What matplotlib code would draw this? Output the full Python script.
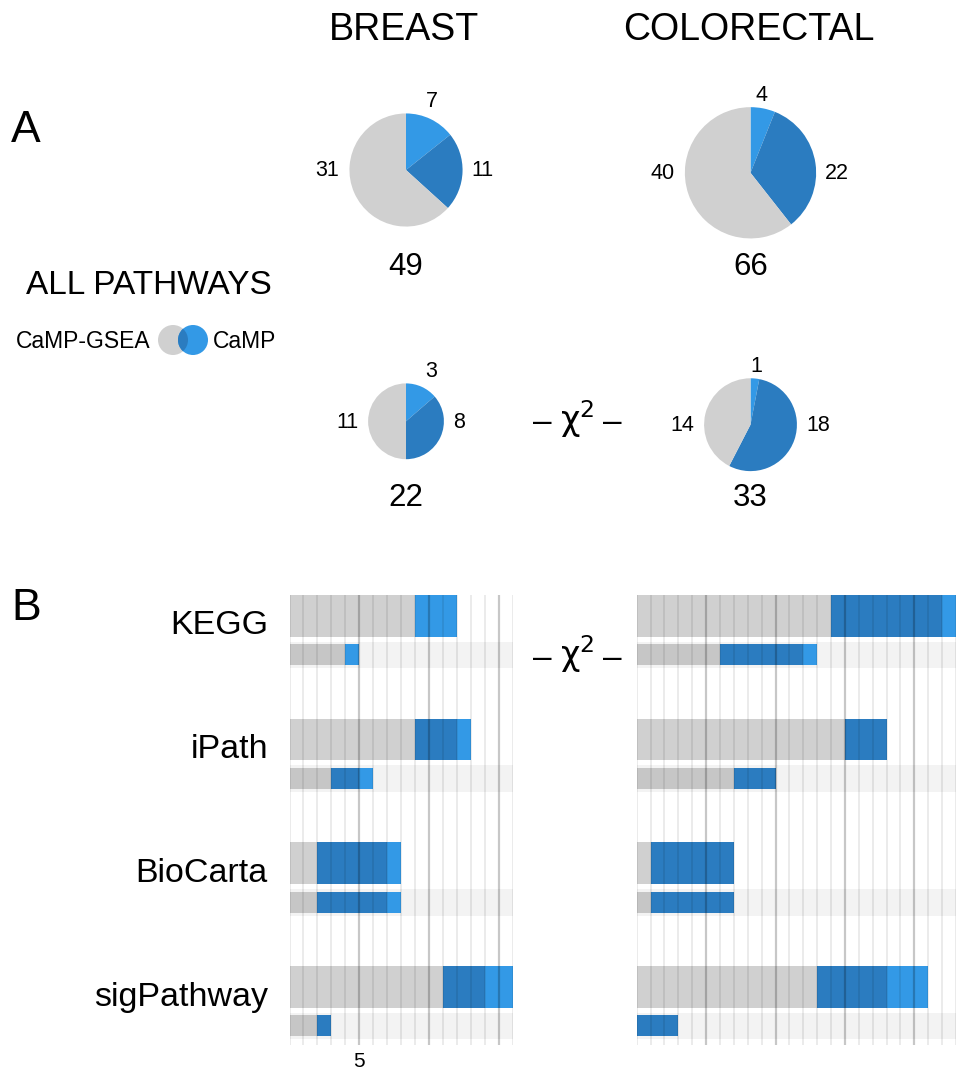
import numpy as np
import matplotlib
matplotlib.use("Agg")
import matplotlib.pyplot as plt
from matplotlib.patches import Circle

plt.rcParams['font.family'] = ['Liberation Sans', 'DejaVu Sans']

# order of every series: CaMP only, both, CaMP-GSEA only
pie_breast_all = [7, 11, 31]
pie_colorectal_all = [4, 22, 40]
pie_breast_chi2 = [3, 8, 11]
pie_colorectal_chi2 = [1, 18, 14]

databases = ['KEGG', 'iPath', 'BioCarta', 'sigPathway']
breast_gsea = [9, 9, 2, 11]
breast_both = [0, 3, 5, 3]
breast_camp = [3, 1, 1, 2]
breast_chi_gsea = [4, 3, 2, 2]
breast_chi_both = [0, 2, 5, 1]
breast_chi_camp = [1, 1, 1, 0]
colorectal_gsea = [14, 15, 1, 13]
colorectal_both = [8, 3, 6, 5]
colorectal_camp = [1, 0, 0, 3]
colorectal_chi_gsea = [6, 7, 1, 0]
colorectal_chi_both = [6, 3, 6, 3]
colorectal_chi_camp = [1, 0, 0, 0]

LIGHT = '#3399e6'
DARK = '#2b7cc0'
GRAY = '#d0d0d0'
GRAY2 = '#c6c6c6'

W, H = 956, 1074
fig = plt.figure(figsize=(W / 100, H / 100), dpi=100)


def px_axes(x0, y0, x1, y1):
    return fig.add_axes([x0 / W, 1 - y1 / H, (x1 - x0) / W, (y1 - y0) / H])


# overlay for text, in pixel coords
tx = px_axes(0, 0, W, H)
tx.set_xlim(0, W)
tx.set_ylim(H, 0)
tx.axis('off')
tx.patch.set_alpha(0)

# ---- panel A: pies ----
k = 8.08
pies = [(pie_breast_all, 406, 170, 267), (pie_colorectal_all, 750.5, 172.8, 267),
        (pie_breast_chi2, 406, 421.3, 498), (pie_colorectal_chi2, 750.5, 424.7, 498)]
for vals, cx, cy, ty in pies:
    tot = sum(vals)
    r = k * np.sqrt(tot)
    pa = px_axes(cx - r, cy - r, cx + r, cy + r)
    pa.pie(vals, colors=[LIGHT, DARK, GRAY], startangle=90, counterclock=False,
           radius=1, wedgeprops=dict(linewidth=0))
    pa.set_xlim(-1, 1)
    pa.set_ylim(-1, 1)
    th = np.pi * vals[0] / tot
    tx.text(cx + 60 * np.sin(th), cy - r - 12, str(vals[0]), fontsize=15.5,
            ha='center', va='center')
    tx.text(cx + r + 9, cy + 1, str(vals[1]), fontsize=15.5, ha='left', va='center')
    tx.text(cx - r - 10, cy + 1, str(vals[2]), fontsize=15.5, ha='right', va='center')
    tx.text(cx, ty, str(tot), fontsize=22.5, ha='center', va='center')

# ---- panel B: bars ----
G = 123.7
unit = 13.95
panels = [
    (289.5, 16, breast_gsea, breast_both, breast_camp,
     breast_chi_gsea, breast_chi_both, breast_chi_camp, [5]),
    (636.7, 23, colorectal_gsea, colorectal_both, colorectal_camp,
     colorectal_chi_gsea, colorectal_chi_both, colorectal_chi_camp, []),
]
for x0, xmax, g, b, c, cg, cb, cc, ticks in panels:
    ax = px_axes(x0, 595, min(x0 + xmax * unit, W), 1045)
    ax.set_xlim(0, xmax)
    ax.set_ylim(450, 0)
    idx = np.arange(len(databases))
    ytop = idx * G + 20.85
    ybot = idx * G + 59.8
    for i in idx:
        ax.axhspan(i * G + 46.7, i * G + 73.3, color='#f3f3f3', lw=0, zorder=0)
    g, b, c = np.array(g), np.array(b), np.array(c)
    cg, cb, cc = np.array(cg), np.array(cb), np.array(cc)
    ax.barh(ytop, g, height=41.7, color=GRAY, zorder=1)
    ax.barh(ytop, b, left=g, height=41.7, color=DARK, zorder=1)
    ax.barh(ytop, c, left=g + b, height=41.7, color=LIGHT, zorder=1)
    ax.barh(ybot, cg, height=21, color=GRAY2, zorder=1)
    ax.barh(ybot, cb, left=cg, height=21, color=DARK, zorder=1)
    ax.barh(ybot, cc, left=cg + cb, height=21, color=LIGHT, zorder=1)
    for v in range(xmax + 1):
        if v % 5 == 0 and v > 0:
            ax.axvline(v, color='k', alpha=0.22, lw=1.6, zorder=3)
        else:
            ax.axvline(v, color='k', alpha=0.08, lw=1.4, zorder=3)
    for s in ax.spines.values():
        s.set_visible(False)
    ax.set_yticks([])
    ax.set_xticks(ticks)
    ax.tick_params(axis='x', length=0, pad=5, labelsize=15)
    ax.patch.set_alpha(0)

for i, name in enumerate(databases):
    tx.text(268, 595 + i * G + 31, name, fontsize=24.5, ha='right', va='center')

# ---- titles and labels ----
tx.text(404, 30, 'BREAST', fontsize=27, ha='center', va='center')
tx.text(749, 30, 'COLORECTAL', fontsize=27, ha='center', va='center')
tx.text(26, 131, 'A', fontsize=32, ha='center', va='center')
tx.text(26, 608, 'B', fontsize=32, ha='center', va='center')
tx.text(149, 286, 'ALL PATHWAYS', fontsize=24, ha='center', va='center')
tx.text(151, 341, 'CaMP-GSEA', fontsize=16.5, ha='right', va='center')
tx.text(213, 341, 'CaMP', fontsize=16.5, ha='left', va='center')
gc = Circle((173, 340), 15, color=GRAY, lw=0)
bc = Circle((193, 340), 15, color=LIGHT, lw=0)
tx.add_patch(gc)
tx.add_patch(bc)
ov = Circle((173, 340), 15, color=DARK, lw=0)
tx.add_patch(ov)
ov.set_clip_path(bc)

# chi-square markers
for yc in (423, 658):
    tx.text(542, yc, '\u2013', fontsize=24, ha='center', va='center')
    tx.text(560, yc - 4, '\u03c7$^{2}$', fontsize=24, ha='left', va='center',
            family=['DejaVu Sans'])
    tx.text(612, yc, '\u2013', fontsize=24, ha='center', va='center')

fig.savefig('out.png', dpi=100)
